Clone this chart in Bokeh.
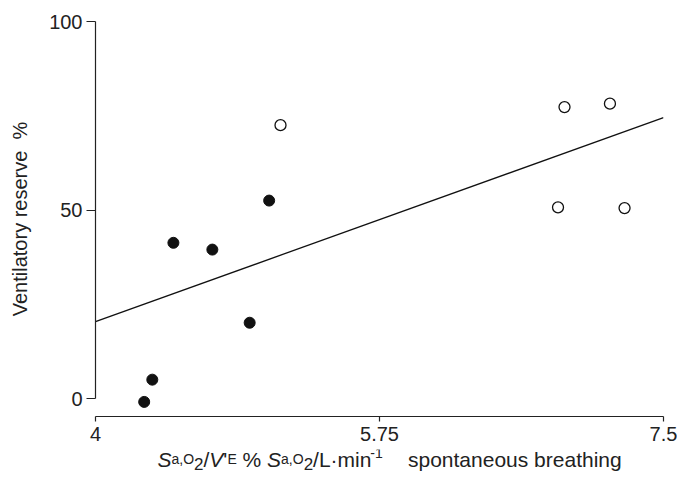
from bokeh.plotting import figure
from bokeh.models import Range1d, FixedTicker, ColumnDataSource
from bokeh.layouts import column
from bokeh.core.properties import value
from bokeh.embed import file_html
from bokeh.resources import INLINE

# ---- data ----
filled_x = [4.30, 4.35, 4.48, 4.72, 4.95, 5.07]
filled_y = [-0.9, 5.0, 41.3, 39.5, 20.1, 52.5]
open_x = [5.14, 6.85, 6.89, 7.17, 7.26]
open_y = [72.5, 50.7, 77.3, 78.2, 50.5]
fit_x = [4.0, 7.5]
fit_y = [20.4, 74.5]
x_ticks = [4, 5.75, 7.5]
x_tick_labels = {4: "4", 5.75: "5.75", 7.5: "7.5"}
y_ticks = [0, 50, 100]
y_label = "Ventilatory reserve\u00a0\u00a0%"

FONT = "Liberation Sans"
AX = "#222222"

W = 677
H_MAIN, H_LAB = 449, 30
p = figure(width=W, height=H_MAIN, output_backend="svg", toolbar_location=None,
           x_range=Range1d(4, 7.5), y_range=Range1d(-4.77, 100),
           min_border_left=95, min_border_right=14,
           min_border_top=21, min_border_bottom=33)
p.frame_align = False
p.outline_line_color = None
p.grid.visible = False
p.background_fill_color = "white"
p.border_fill_color = "white"

xa = p.xaxis[0]
xa.ticker = FixedTicker(ticks=x_ticks)
xa.major_label_overrides = x_tick_labels
xa.minor_tick_line_color = None
xa.major_tick_in = 0
xa.major_tick_out = 5
xa.axis_line_color = AX
xa.major_tick_line_color = AX
xa.axis_line_width = 1.2
xa.major_tick_line_width = 1.2
xa.major_label_text_font = FONT
xa.major_label_text_font_size = "20px"
xa.major_label_text_color = AX
xa.major_label_standoff = 5

ya = p.yaxis[0]
ya.ticker = FixedTicker(ticks=y_ticks)
ya.bounds = (0, 100)
ya.minor_tick_line_color = None
ya.major_tick_in = 0
ya.major_tick_out = 9
ya.axis_line_color = AX
ya.major_tick_line_color = AX
ya.axis_line_width = 1.2
ya.major_tick_line_width = 1.2
ya.major_label_text_font = FONT
ya.major_label_text_font_size = "20px"
ya.major_label_text_color = AX
ya.major_label_standoff = 4
ya.axis_label = y_label
ya.axis_label_text_font = FONT
ya.axis_label_text_font_size = "20px"
ya.axis_label_text_font_style = "normal"
ya.axis_label_text_color = AX
ya.axis_label_standoff = 15

# regression line and points
p.line(fit_x, fit_y, line_color="#111111", line_width=1.3)
p.scatter(filled_x, filled_y, marker="circle", size=11,
          fill_color="#111111", line_color="#111111")
p.scatter(open_x, open_y, marker="circle", size=11,
          fill_color="white", line_color="#111111", line_width=1.3)

# ---- composite x-axis label, drawn in a strip figure under the chart ----
ADV = {'S': 667, 'a': 556, ',': 278, 'O': 778, '2': 556, '/': 278, 'V': 667,
       "'": 191, 'E': 667, ' ': 278, '%': 889, 'L': 556, '·': 278, 'm': 833,
       'i': 222, 'n': 556, '-': 333, '1': 556}
F, SM, SUB, SUP = 21, 14, 17, 14
pieces = [
    ("S", F, "italic", 0),
    ("a,O", SM, "normal", 0),
    ("2", SUB, "normal", -5),
    ("/", F, "normal", 0),
    ("V", F, "italic", 0),
    ("'", F, "normal", 0),
    ("E", SM, "normal", 0),
    (" % ", F, "normal", 0),
    ("S", F, "italic", 0),
    ("a,O", SM, "normal", 0),
    ("2", SUB, "normal", -5),
    ("/L·min", F, "normal", 0),
    ("-1", SUP, "normal", 6),
]
BASE = H_LAB - (465.5 - H_MAIN) + 7
lx, ly, lt, ls, lst = [], [], [], [], []
x = 157.0
for txt, size, style, dy in pieces:
    lead = len(txt) - len(txt.lstrip(" "))
    lx.append(x + lead * ADV[' '] * size / 1000.0)
    ly.append(BASE + dy)
    lt.append(txt.strip())
    ls.append(f"{size}px")
    lst.append(style)
    x += sum(ADV[c] for c in txt) * size / 1000.0
lx.append(407.5)
ly.append(BASE)
lt.append("spontaneous breathing")
ls.append(f"{F}px")
lst.append("normal")
src = ColumnDataSource(dict(x=lx, y=ly, text=lt, size=ls, style=lst))

q = figure(width=W, height=H_LAB, output_backend="svg", toolbar_location=None,
           x_range=Range1d(0, W), y_range=Range1d(0, H_LAB),
           x_axis_type=None, y_axis_type=None,
           min_border=0, min_border_left=0, min_border_right=0,
           min_border_top=0, min_border_bottom=0)
q.frame_align = False
q.grid.visible = False
q.outline_line_color = None
q.background_fill_color = "white"
q.border_fill_color = "white"
q.text(x="x", y="y", text="text", source=src, text_font=value(FONT),
       text_font_size="size", text_font_style="style", text_color=AX,
       text_baseline="alphabetic", text_align="left")

layout = column(p, q, spacing=0)
open("out.html", "w").write(file_html(layout, INLINE))
